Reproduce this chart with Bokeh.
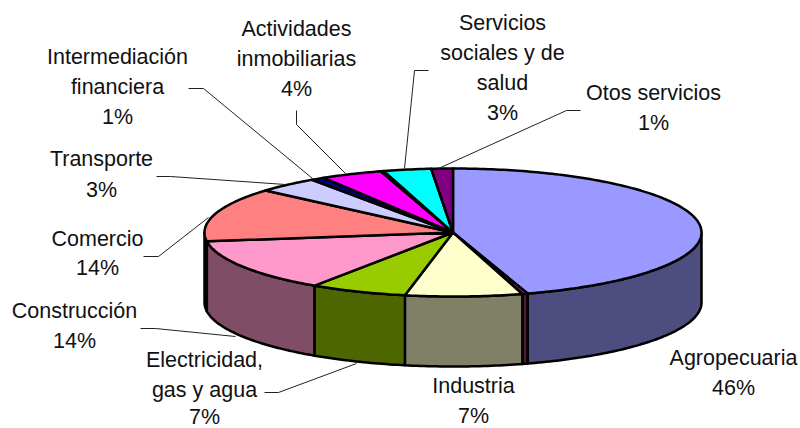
from math import sin, cos, pi
from bokeh.plotting import figure
from bokeh.embed import file_html
from bokeh.resources import INLINE
from bokeh.core.properties import value

categories = ["Agropecuaria", "Sliver A", "Industria", "Electricidad, gas y agua", "Construcción", "Comercio",
              "Transporte", "Intermediación financiera", "Actividades inmobiliarias", "Sliver B",
              "Servicios sociales y de salud", "Otos servicios"]
shares = [45.15, 0.35, 7.6, 6.3, 13.4, 13.6, 4.0, 0.9, 4.0, 0.2, 3.1, 1.4]
top_colors = ["#9999ff", "#993366", "#ffffcc", "#99cc00", "#ff99cc", "#ff8080",
              "#ccccff", "#000080", "#ff00ff", "#808000", "#00ffff", "#800080"]
side_colors = ["#4d4d80", "#4d1a33", "#808066", "#4d6600", "#804d66", "#804040",
               "#666680", "#000040", "#800080", "#404000", "#008080", "#400040"]

text_lines = [
    ("Actividades", 296, 28), ("inmobiliarias", 296, 58), ("4%", 296, 88),
    ("Intermediación", 117, 56), ("financiera", 117, 86), ("1%", 117, 116),
    ("Transporte", 101, 158), ("3%", 101, 189),
    ("Servicios", 502, 22), ("sociales y de", 502, 52), ("salud", 502, 82), ("3%", 502, 112),
    ("Otos servicios", 653, 92), ("1%", 653, 122),
    ("Comercio", 97, 238), ("14%", 97, 267),
    ("Construcción", 74, 310), ("14%", 74, 340),
    ("Electricidad,", 204, 359), ("gas y agua", 204, 389), ("7%", 204, 416),
    ("Industria", 473, 385), ("7%", 473, 415),
    ("Agropecuaria", 733, 357), ("46%", 733, 387),
]
leaders = [
    ([188, 203, 312], [88, 88, 178]),
    ([296, 296, 345], [110, 124, 173]),
    ([156, 170, 285], [176, 176, 184]),
    ([143, 158, 208], [256, 256, 217]),
    ([140, 155, 235], [328, 328, 336]),
    ([264, 278, 356], [392, 392, 363]),
    ([428, 414, 404], [70, 70, 168]),
    ([580, 566, 438], [110, 110, 168]),
]

CX, CY, RX, RY, DEPTH = 452.5, 232.0, 248.5, 64.0, 70.0

p = figure(width=800, height=428, output_backend="svg", toolbar_location=None,
           x_range=(0, 800), y_range=(428, 0), min_border=0, outline_line_color=None)
p.xaxis.visible = False
p.yaxis.visible = False
p.xgrid.visible = False
p.ygrid.visible = False

# slice boundaries, clockwise from the top
bounds = [0.0]
for s in shares:
    bounds.append(bounds[-1] + s)
total = bounds[-1]


def rim(frac_pct):
    t = 2 * pi * frac_pct / total
    return CX + RX * sin(t), CY - RY * cos(t)


def arc(a, b, step=0.25):
    n = max(2, int((b - a) / step) + 1)
    return [rim(a + (b - a) * i / (n - 1)) for i in range(n)]


# side walls of the front half
walls = []
for i, (a, b) in enumerate(zip(bounds[:-1], bounds[1:])):
    lo, hi = max(a, 25.0), min(b, 75.0)
    if lo < hi:
        walls.append((i, lo, hi))
for i, lo, hi in sorted(walls, key=lambda w: abs(w[1] - 50), reverse=True):
    pts = arc(lo, hi)
    xs = [q[0] for q in pts] + [q[0] for q in reversed(pts)]
    ys = [q[1] for q in pts] + [q[1] + DEPTH for q in reversed(pts)]
    p.patch(xs, ys, fill_color=side_colors[i], line_color="black", line_width=2.5, line_join="round")

# top faces
for i, (a, b) in enumerate(zip(bounds[:-1], bounds[1:])):
    pts = arc(a, b)
    xs = [CX] + [q[0] for q in pts]
    ys = [CY] + [q[1] for q in pts]
    p.patch(xs, ys, fill_color=top_colors[i], line_color="black", line_width=2.5, line_join="round")

# leader lines
for xs, ys in leaders:
    p.line(xs, ys, line_color="#222222", line_width=1)

# labels
p.text(x=[t[1] for t in text_lines], y=[t[2] for t in text_lines], text=[t[0] for t in text_lines],
       text_font=value("Liberation Sans"), text_font_size="21.5px", text_color="#111111",
       text_align="center", text_baseline="middle")

open("out.html", "w").write(file_html(p, INLINE))
